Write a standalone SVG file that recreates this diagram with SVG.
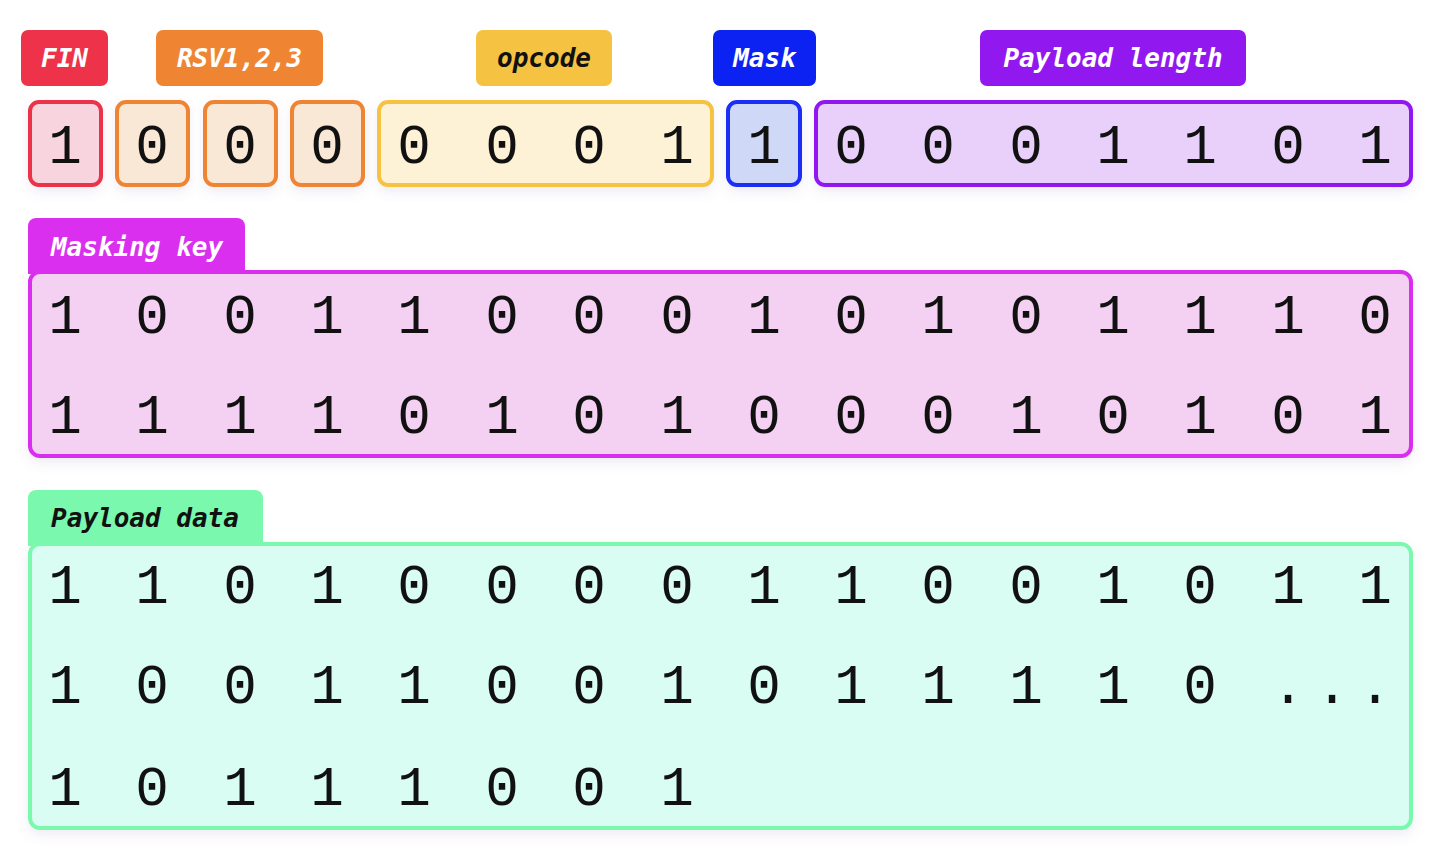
<svg xmlns="http://www.w3.org/2000/svg" width="1452" height="848" viewBox="0 0 1452 848">
<defs>
<filter id="sh" x="-10%" y="-10%" width="120%" height="130%">
<feDropShadow dx="0" dy="5" stdDeviation="6" flood-color="#8060a0" flood-opacity="0.12"/>
</filter>
</defs>
<style>
.lbl{font-family:"DejaVu Sans Mono","Liberation Mono",monospace;font-size:26px;font-weight:bold;font-style:italic;text-anchor:middle}
.w{fill:#ffffff}
.k{fill:#111111}
.bit{font-family:"Liberation Mono","DejaVu Sans Mono",monospace;font-size:56px;fill:#111111;text-anchor:middle}
.box{stroke-width:4}
</style>
<rect width="1452" height="848" fill="#ffffff"/>

<g id="fin">
<rect x="21" y="30" width="87" height="56" rx="7" fill="#EE3249"/>
<text class="lbl w" x="64.5" y="67">FIN</text>
<rect class="box" x="30" y="102" width="71" height="83" rx="9" fill="#F8D5DE" stroke="#EC3049" filter="url(#sh)"/>
<text class="bit" x="65" y="163">1</text>
</g>

<g id="rsv">
<rect x="156" y="30" width="167" height="56" rx="7" fill="#EF8533"/>
<text class="lbl w" x="239.5" y="67">RSV1,2,3</text>
<rect class="box" x="117" y="102" width="71" height="83" rx="9" fill="#FAE8D6" stroke="#EF8533" filter="url(#sh)"/>
<rect class="box" x="205" y="102" width="71" height="83" rx="9" fill="#FAE8D6" stroke="#EF8533" filter="url(#sh)"/>
<rect class="box" x="292" y="102" width="71" height="83" rx="9" fill="#FAE8D6" stroke="#EF8533" filter="url(#sh)"/>
<text class="bit" x="152 240 327" y="163">000</text>
</g>

<g id="opcode">
<rect x="476" y="30" width="136" height="56" rx="7" fill="#F5C242"/>
<text class="lbl k" x="544" y="67">opcode</text>
<rect class="box" x="379" y="102" width="333" height="83" rx="9" fill="#FDF2D6" stroke="#F5C242" filter="url(#sh)"/>
<text class="bit" x="414 502 589 677" y="163">0001</text>
</g>

<g id="mask">
<rect x="713" y="30" width="103" height="56" rx="7" fill="#0B22F2"/>
<text class="lbl w" x="764.5" y="67">Mask</text>
<rect class="box" x="728" y="102" width="72" height="83" rx="9" fill="#D0D8F8" stroke="#1A2FF5" filter="url(#sh)"/>
<text class="bit" x="764" y="163">1</text>
</g>

<g id="payload-length">
<rect x="980" y="30" width="266" height="56" rx="7" fill="#9119F0"/>
<text class="lbl w" x="1113" y="67">Payload length</text>
<rect class="box" x="816" y="102" width="595" height="83" rx="9" fill="#E8D0FA" stroke="#9119F0" filter="url(#sh)"/>
<text class="bit" x="851 938 1026 1113 1200 1288 1375" y="163">0001101</text>
</g>

<g id="masking-key">
<rect class="box" x="30" y="272" width="1381" height="184" rx="10" fill="#F4D1F2" stroke="#DA2FEF" filter="url(#sh)"/>
<path d="M28 274 V226 a8 8 0 0 1 8 -8 H237 a8 8 0 0 1 8 8 V274 Z" fill="#DA2FEF"/>
<text class="lbl w" x="137" y="256">Masking key</text>
<text class="bit" x="65 152 240 327 414 502 589 677 764 851 938 1026 1113 1200 1288 1375" y="333">1001100010101110</text>
<text class="bit" x="65 152 240 327 414 502 589 677 764 851 938 1026 1113 1200 1288 1375" y="433">1111010100010101</text>
</g>

<g id="payload-data">
<rect class="box" x="30" y="544" width="1381" height="284" rx="10" fill="#D9FCF3" stroke="#7AF9AE" filter="url(#sh)"/>
<path d="M28 546 V498 a8 8 0 0 1 8 -8 H255 a8 8 0 0 1 8 8 V546 Z" fill="#7AF9AE"/>
<text class="lbl k" x="145" y="527">Payload data</text>
<text class="bit" x="65 152 240 327 414 502 589 677 764 851 938 1026 1113 1200 1288 1375" y="603">1101000011001011</text>
<text class="bit" x="65 152 240 327 414 502 589 677 764 851 938 1026 1113 1200 1288 1332 1375" y="703">10011001011110...</text>
<text class="bit" x="65 152 240 327 414 502 589 677" y="805">10111001</text>
</g>

<g id="connectors"></g>
</svg>
